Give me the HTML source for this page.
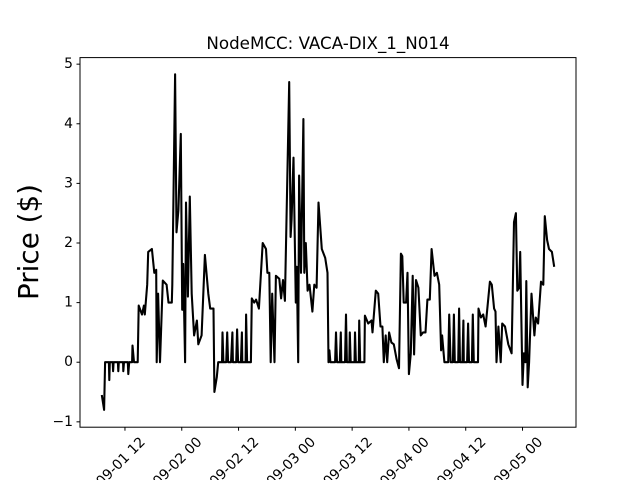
<!DOCTYPE html>
<html><head><meta charset="utf-8"><style>body{margin:0;background:#fff}svg{display:block}</style></head>
<body>
<svg id="chart" width="640" height="480" xmlns="http://www.w3.org/2000/svg" font-family="DejaVu Sans, Liberation Sans, sans-serif">
<rect width="640" height="480" fill="#fff"/>
<text x="328" y="49" font-size="16.7" text-anchor="middle">NodeMCC: VACA-DIX_1_N014</text>
<text transform="translate(38,242) rotate(-90)" font-size="27.8" text-anchor="middle">Price ($)</text>
<g id="ticks"></g>
<path id="series" fill="none" stroke="#000" stroke-width="2.08" stroke-linejoin="round"/>
<rect x="80" y="57.6" width="496" height="369.6" fill="none" stroke="#000" stroke-width="1"/>
</svg>
<script>
const hours=[7.1,7.6,7.8,8.6,8.7,8.8,9.4,9.5,9.6,10.5,10.6,10.7,11.6,11.65,11.8,12.6,12.7,12.9,13.5,13.6,13.9,14.7,14.9,15.6,16.0,16.2,16.7,16.9,17.7,18.2,18.6,18.7,19.0,19.4,20.0,20.8,21.2,21.9,22.0,22.6,22.9,23.3,23.8,24.1,24.3,24.7,24.9,25.3,25.7,26.1,26.6,27.2,27.5,28.2,28.9,29.6,30.0,30.7,30.9,31.4,31.7,32.5,32.6,32.8,33.4,33.6,33.8,34.4,34.7,34.8,35.5,35.7,35.9,36.5,36.7,36.8,37.5,37.6,37.8,38.6,38.8,39.3,39.7,40.3,41.1,41.8,42.1,42.5,42.8,43.1,43.6,43.9,44.6,45.0,45.4,45.8,46.7,47.0,47.2,47.6,48.1,48.3,48.6,48.8,49.2,49.7,49.9,50.2,50.6,51.0,51.6,52.0,52.5,52.9,53.6,54.3,54.8,55.0,55.2,55.4,56.4,56.6,56.8,57.4,57.6,57.7,58.5,58.7,58.9,59.4,59.5,59.7,60.5,60.6,60.8,61.4,61.5,61.7,62.6,62.7,63.4,64.1,64.3,65.0,65.5,66.0,66.4,66.7,67.1,67.4,67.8,68.3,68.8,69.4,69.9,70.3,70.6,70.9,71.4,71.7,72.0,72.4,72.8,73.1,73.5,74.0,74.5,75.0,75.5,75.9,76.4,76.8,77.4,77.9,78.4,78.8,79.0,79.5,80.3,80.5,80.8,81.3,81.5,81.7,82.4,82.6,82.8,83.3,83.5,83.6,84.3,84.5,84.7,85.3,85.5,85.7,86.6,86.7,87.2,87.7,88.2,89.1,89.5,90.0,90.3,90.5,90.9,91.4,91.7,92.3,93.0,93.7,94.2,94.6,94.9,95.3,95.5,96.0,96.3,96.6,96.8,97.1,97.4,97.9,98.5,98.8,99.3,99.9,100.4,100.7,101.2,101.6,102.2,102.7];
const prices=[-0.55,-0.8,0,0,-0.3,0,0,-0.15,0,0,-0.15,0,0,-0.15,0,0,-0.2,0,0,0.28,0,0,0.95,0.8,0.95,0.8,1.3,1.85,1.9,1.5,1.55,0,1.15,0,1.37,1.3,1.0,1.0,1.3,4.83,2.18,2.55,3.83,0.88,1.65,0,2.68,1.1,2.78,1.15,0.45,0.7,0.3,0.45,1.8,1.15,0.9,0.9,-0.5,-0.25,0,0,0.5,0,0,0.5,0,0,0.5,0,0,0.55,0,0,0.5,0,0,0.8,0,0,1.07,1.0,1.05,0.9,2.0,1.9,1.5,1.5,0,1.15,0,1.45,1.4,1.07,1.38,1.03,4.7,2.1,2.4,3.43,1.0,1.6,0,3.13,1.5,4.08,1.5,2.0,1.2,1.3,0.85,1.3,1.25,2.68,1.9,1.75,1.5,0,0.2,0,0,0.5,0,0,0.5,0,0,0.8,0,0,0.5,0,0,0.5,0,0,0.7,0,0,0.78,0.65,0.7,0.5,1.2,1.15,0.6,0.6,0,0.45,0,0.5,0.33,0.3,0.05,-0.1,1.82,1.78,1.0,1.0,1.5,-0.2,0.15,1.45,0.13,1.38,1.25,0.45,0.5,0.5,1.05,1.05,1.9,1.45,1.5,1.3,0.2,0.45,0,0,0.8,0,0,0.8,0,0,0.9,0,0,0.7,0,0,0.65,0,0,0.8,0,0,0.9,0.75,0.8,0.6,1.35,1.3,0.9,0.85,0,0.6,0,0.65,0.6,0.3,0.15,2.35,2.5,1.2,1.25,1.85,-0.38,0.15,0,1.36,-0.42,0,1.15,0.45,0.75,0.65,1.35,1.3,2.45,2.05,1.9,1.85,1.6];
const xTickHours=[12,24,36,48,60,72,84,96];
const xTickLabels=["09-01 12","09-02 00","09-02 12","09-03 00","09-03 12","09-04 00","09-04 12","09-05 00"];
const yTicks=[-1,0,1,2,3,4,5];

const X0=80,X1=576,Y0=427.2,Y1=57.6,HMIN=2.5,HMAX=107.3,VMIN=-1.09,VMAX=5.11;
function xs(h){return X0+(h-HMIN)/(HMAX-HMIN)*(X1-X0);}
function ys(v){return Y0-(v-VMIN)/(VMAX-VMIN)*(Y0-Y1);}
const NS="http://www.w3.org/2000/svg";
const g=document.getElementById('ticks');
yTicks.forEach(v=>{
  const y=ys(v);
  const l=document.createElementNS(NS,'line');
  l.setAttribute('x1',X0-3.5);l.setAttribute('x2',X0);l.setAttribute('y1',y);l.setAttribute('y2',y);l.setAttribute('stroke','#000');
  
  
  g.appendChild(l);
  const t=document.createElementNS(NS,'text');
  t.setAttribute('x',X0-7);t.setAttribute('y',y);t.setAttribute('font-size','13.9');t.setAttribute('text-anchor','end');t.setAttribute('dominant-baseline','central');
  t.textContent=String(v).replace('-','\u2212');
  
  
  g.appendChild(t);
});
xTickHours.forEach((h,i)=>{
  const x=xs(h);
  const l=document.createElementNS(NS,'line');
  l.setAttribute('x1',x);l.setAttribute('x2',x);l.setAttribute('y1',Y0);l.setAttribute('y2',Y0+3.5);l.setAttribute('stroke','#000');
  
  
  g.appendChild(l);
  const t=document.createElementNS(NS,'text');
  t.setAttribute('transform','translate('+(x-4)+',462) rotate(-45)');t.setAttribute('font-size','13.9');t.setAttribute('text-anchor','middle');t.setAttribute('dominant-baseline','central');
  t.textContent=xTickLabels[i];
  
  
  g.appendChild(t);
});
document.getElementById('series').setAttribute('d',hours.map((h,i)=>(i?'L':'M')+xs(h).toFixed(1)+' '+ys(prices[i]).toFixed(1)).join(' '));
</script>
</body></html>
